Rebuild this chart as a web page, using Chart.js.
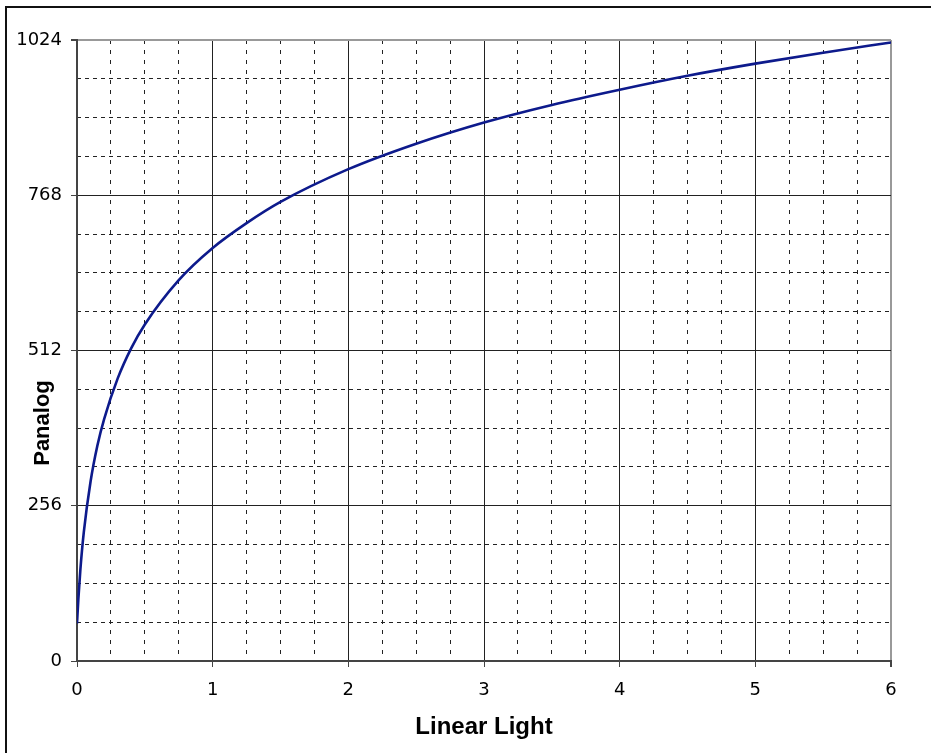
<!DOCTYPE html>
<html>
<head>
<meta charset="utf-8">
<script src="https://cdn.jsdelivr.net/npm/chart.js@4"></script>
<style>
  html, body { margin: 0; padding: 0; background: #fff; }
  #wrap { width: 931px; height: 753px; }
</style>
</head>
<body>
<div id="wrap"><canvas id="my-chart" width="931" height="753"></canvas></div>
<script>
// values
const lightValues = [0, 0.01, 0.025, 0.05, 0.1, 0.15, 0.2, 0.3, 0.4, 0.5, 0.75, 1, 1.25, 1.5, 2, 2.5, 3, 3.5, 4, 4.5, 5, 5.5, 6];
const panalogValues = [62, 102, 151, 212, 296, 355, 399, 466, 516, 555, 628, 681, 722, 757, 811, 853, 888, 917, 942, 965, 985, 1003, 1020];
const xTickLabels = ['0', '1', '2', '3', '4', '5', '6'];
const yTickLabels = ['0', '256', '512', '768', '1024'];
const xTitle = 'Linear Light';
const yTitle = 'Panalog';

const isWhole = (v, step) => Math.abs(v / step - Math.round(v / step)) < 1e-6;

// outer frame + axis titles
const decorations = {
  id: 'decorations',
  afterDraw(chart) {
    const ctx = chart.ctx;
    const area = chart.chartArea;
    ctx.save();
    ctx.strokeStyle = '#111';
    ctx.lineWidth = 2;
    ctx.beginPath();
    ctx.moveTo(6, 753);
    ctx.lineTo(6, 7);
    ctx.lineTo(931, 7);
    ctx.stroke();

    ctx.fillStyle = '#000';
    ctx.font = 'bold 24px "Liberation Sans", Arial, sans-serif';
    ctx.textAlign = 'center';
    ctx.textBaseline = 'middle';
    ctx.fillText(xTitle, (area.left + area.right) / 2, 727);

    ctx.font = 'bold 22px "Liberation Sans", Arial, sans-serif';
    ctx.translate(43, 423);
    ctx.rotate(-Math.PI / 2);
    ctx.fillText(yTitle, 0, 0);
    ctx.restore();
  }
};

const ctx = document.getElementById('my-chart').getContext('2d');
new Chart(ctx, {
  type: 'line',
  data: {
    datasets: [
      {
        label: yTitle,
        data: lightValues.map((x, i) => ({ x: x, y: panalogValues[i] })),
        borderColor: '#0d1a8c',
        borderWidth: 2.6,
        pointRadius: 0,
        fill: false,
        cubicInterpolationMode: 'monotone',
      },
    ],
  },
  options: {
    responsive: false,
    animation: false,
    layout: { padding: { top: 40, right: 40, left: 0, bottom: 0 } },
    plugins: { legend: { display: false }, tooltip: { enabled: false } },
    scales: {
      xMinor: {
        type: 'linear',
        position: 'top',
        min: 0,
        max: 6,
        ticks: { display: false, stepSize: 0.25 },
        grid: {
          drawTicks: false,
          color: (c) => (isWhole(c.tick.value, 1) ? 'transparent' : '#222'),
          lineWidth: 1,
        },
        border: { display: false, dash: [4, 6] },
        afterFit: (s) => { s.height = 0; },
      },
      yMinor: {
        type: 'linear',
        position: 'right',
        min: 0,
        max: 1024,
        ticks: { display: false, stepSize: 64 },
        grid: {
          drawTicks: false,
          color: (c) => (isWhole(c.tick.value, 256) ? 'transparent' : '#222'),
          lineWidth: 1,
        },
        border: { display: false, dash: [4, 4] },
        afterFit: (s) => { s.width = 0; },
      },
      x: {
        type: 'linear',
        position: 'bottom',
        min: 0,
        max: 6,
        ticks: {
          stepSize: 1,
          color: '#000',
          padding: 13,
          font: { family: '"DejaVu Sans", Verdana, sans-serif', size: 18 },
          callback: (v) => (isWhole(v, 1) ? xTickLabels[Math.round(v)] : ''),
        },
        grid: {
          color: (c) => (c.tick.value === 6 ? '#999' : '#222'),
          lineWidth: (c) => (c.tick.value === 6 ? 2 : 1),
          tickLength: 6,
          tickColor: '#444',
        },
        border: { color: '#444', width: 2 },
        afterFit: (s) => { s.height = 92; },
      },
      y: {
        type: 'linear',
        position: 'left',
        min: 0,
        max: 1024,
        ticks: {
          stepSize: 256,
          color: '#000',
          padding: 9,
          font: { family: '"DejaVu Sans", Verdana, sans-serif', size: 18 },
          callback: (v) => (isWhole(v, 256) ? yTickLabels[Math.round(v / 256)] : ''),
        },
        grid: {
          color: (c) => (c.tick.value === 1024 ? '#999' : '#222'),
          lineWidth: (c) => (c.tick.value === 1024 ? 2 : 1),
          tickLength: 6,
          tickColor: '#444',
        },
        border: { color: '#444', width: 2 },
        afterFit: (s) => { s.width = 77; },
      },
    },
  },
  plugins: [decorations],
});
</script>
</body>
</html>
